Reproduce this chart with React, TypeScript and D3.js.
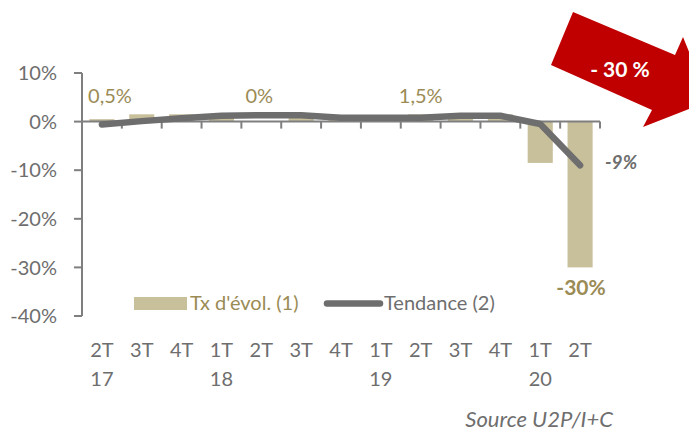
import React from "react";
import * as d3 from "d3";

const quarters = ["2T", "3T", "4T", "1T", "2T", "3T", "4T", "1T", "2T", "3T", "4T", "1T", "2T"];
const years = ["17", "", "", "18", "", "", "", "19", "", "", "", "20", ""];
const evolution = [0.5, 1.5, 1.5, 1.0, 0, 1.0, 0.5, 0.5, 1.5, 1.0, 1.5, -8.5, -30];
const tendance = [-0.6, 0.1, 0.7, 1.2, 1.3, 1.3, 0.8, 0.8, 0.8, 1.2, 1.2, -0.5, -9];
const yTicks = [10, 0, -10, -20, -30, -40];
const barLabels = [
  { i: 0, text: "0,5%", dx: 8 },
  { i: 4, text: "0%", dx: -2 },
  { i: 8, text: "1,5%", dx: 0 },
];

const W = 689;
const H = 432;
const FONT = "Lato, 'Open Sans', sans-serif";
const BAR = "#c8bf9b";
const OLIVE = "#9b8b55";
const GREY = "#6e6e6e";
const AXIS = "#7f7f7f";
const RED = "#c00000";

export default function App() {
  const idx = quarters.map((_, i) => i);
  const x = d3.scaleBand<number>().domain(idx).range([82, 600]).paddingInner(0.37).paddingOuter(0.185);
  const y = d3.scaleLinear().domain([-40, 10]).range([316, 73]);
  const step = x.step();
  const cx = (i: number) => (x(i) ?? 0) + x.bandwidth() / 2;

  const line = d3
    .line<number>()
    .x((_, i) => cx(i))
    .y((d) => y(d));

  const last = evolution.length - 1;

  return (
    <svg width={W} height={H} style={{ position: "absolute", left: 0, top: 0 }} fontFamily={FONT}>
      {/* bars */}
      {evolution.map((v, i) => (
        <rect
          key={i}
          x={x(i)}
          width={x.bandwidth()}
          y={y(Math.max(0, v))}
          height={Math.abs(y(v) - y(0))}
          fill={BAR}
        />
      ))}

      {/* x axis at zero */}
      <line x1={82} x2={600} y1={y(0)} y2={y(0)} stroke={AXIS} strokeWidth={2} />
      {idx.map((i) => (
        <line
          key={i}
          x1={82 + step * (i + 1)}
          x2={82 + step * (i + 1)}
          y1={y(0)}
          y2={y(0) + 7}
          stroke={AXIS}
          strokeWidth={2}
        />
      ))}

      {/* y axis */}
      <line x1={82} x2={82} y1={y(10)} y2={y(-40)} stroke={AXIS} strokeWidth={2} />
      {yTicks.map((t) => (
        <g key={t}>
          <line x1={74} x2={82} y1={y(t)} y2={y(t)} stroke={AXIS} strokeWidth={2} />
          <text x={57} y={y(t)} dy="0.36em" textAnchor="end" fontSize={20} fill={GREY}>
            {t}%
          </text>
        </g>
      ))}

      {/* trend line */}
      <path
        d={line(tendance) ?? ""}
        fill="none"
        stroke={GREY}
        strokeWidth={6.5}
        strokeLinecap="round"
        strokeLinejoin="round"
      />

      {/* data labels */}
      {barLabels.map((l) => (
        <text key={l.i} x={cx(l.i) + l.dx} y={103} textAnchor="middle" fontSize={20} fill={OLIVE}>
          {l.text}
        </text>
      ))}
      <text x={cx(last) + 1} y={295} textAnchor="middle" fontSize={21} fontWeight="bold" fill={OLIVE}>
        -30%
      </text>
      <text x={cx(last) + 41} y={169} textAnchor="middle" fontSize={19} fontWeight="bold" fontStyle="italic" fill={GREY}>
        -9%
      </text>

      {/* category labels */}
      {quarters.map((q, i) => (
        <g key={i}>
          <text x={cx(i)} y={357} textAnchor="middle" fontSize={20} fill={GREY}>
            {q}
          </text>
          <text x={cx(i)} y={386} textAnchor="middle" fontSize={20} fill={GREY}>
            {years[i]}
          </text>
        </g>
      ))}

      {/* legend */}
      <rect x={134} y={297} width={53} height={13} fill={BAR} />
      <text x={190} y={310} fontSize={20} fill={OLIVE}>
        Tx d'évol. (1)
      </text>
      <line x1={327} x2={380} y1={303.5} y2={303.5} stroke={GREY} strokeWidth={6.5} strokeLinecap="round" />
      <text x={384} y={310} fontSize={20} fill={GREY}>
        Tendance (2)
      </text>

      {/* source */}
      <text x={613} y={427} textAnchor="end" fontSize={22} fontStyle="italic" fill={GREY}>
        Source U2P/I+C
      </text>

      {/* red arrow */}
      <polygon
        points="573,12 675,55 683,37 709,101 643,127 652,110 551,65"
        fill={RED}
      />
      <text x={620} y={77} textAnchor="middle" fontSize={21} fontWeight="bold" fill="#fff">
        - 30 %
      </text>
    </svg>
  );
}
